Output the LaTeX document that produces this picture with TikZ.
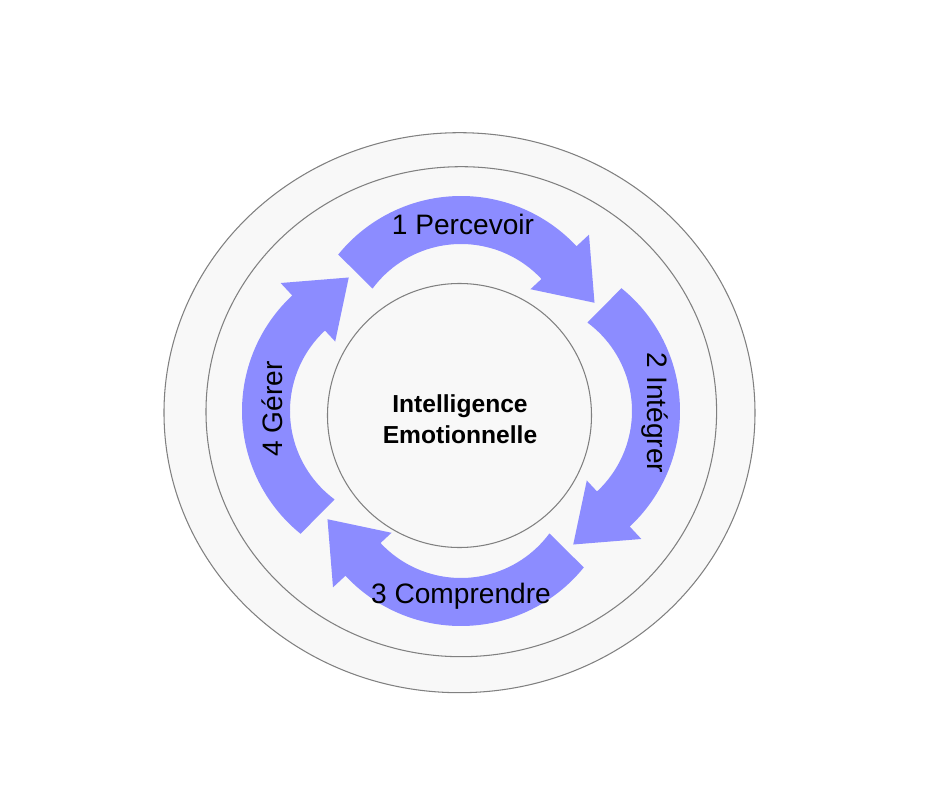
\documentclass[tikz,border=0pt]{standalone}
\usepackage{fontspec}
\setmainfont{Liberation Sans}
\usepackage{tikz}
\definecolor{ringfill}{RGB}{248, 248, 248}
\definecolor{ringline}{RGB}{128, 128, 128}
\definecolor{loopblue}{RGB}{140, 140, 255}

\begin{document}
\begin{tikzpicture}[
    x=0.02cm, y=0.02cm,
    ring/.style={draw=ringline, line width=0.6pt, fill=ringfill},
    cyclearrow/.style={fill=loopblue},
    stage/.style={font=\fontsize{16}{19}\selectfont, anchor=base, inner sep=0pt},
    core/.style={font=\bfseries\fontsize{14}{17.6}\selectfont, align=center, inner sep=0pt}
]
    \useasboundingbox (-460,-375) rectangle (480,413);

    \draw[ring] (-0.5,0.3) ellipse [x radius=295.5, y radius=280];
    \draw[ring] (1.3,1.3) ellipse [x radius=255.3, y radius=245];
    \draw[ring] (-0.5,-2.5) circle [radius=132];

    \foreach \dir/\off in {90/57, 0/61, -90/57, 180/61}
        \fill[cyclearrow, shift={(1,2)}, shift={(\dir:\off)}]
            ({\dir+51}:158) arc[start angle=\dir+51, end angle=\dir-47, radius=158]
            -- ({\dir-47}:175) -- ({\dir-69}:143) -- ({\dir-47}:95)
            -- ({\dir-47}:110) arc[start angle=\dir-47, end angle=\dir+53.5, radius=110] -- cycle;

    \node[core] (hub) at (0,-6.5) {Intelligence\\Emotionnelle};
    \node[stage] (perceive) at (3,178) {1 Percevoir};
    \node[stage, rotate=-90] (integrate) at (187,0) {2 Intégrer};
    \node[stage] (understand) at (1,-190) {3 Comprendre};
    \node[stage, rotate=90] (manage) at (-177,4) {4 Gérer};
\end{tikzpicture}
\end{document}
